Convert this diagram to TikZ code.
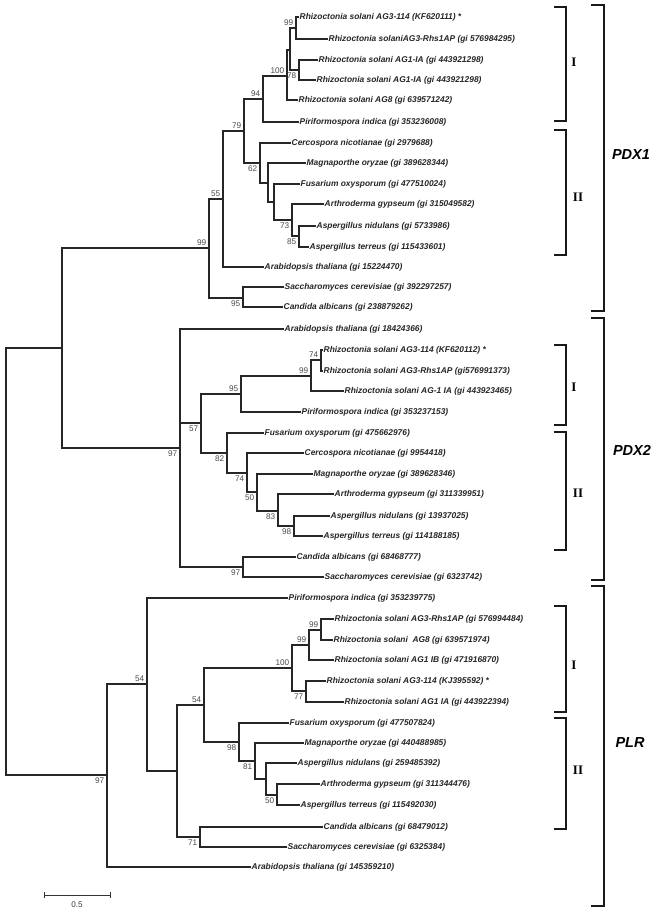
\documentclass[tikz,border=0pt]{standalone}
\usepackage{fontspec}
\setmainfont{Liberation Sans}
\newfontfamily\tnr{Liberation Serif}
\newcommand\mkleaf[4]{\coordinate (#1) at (#2,#3); \node[leaflabel] (#1t) at (#1) {#4};}
\newcommand\mkin[3]{\coordinate (#1) at (#2,#3);}
\newcommand\edg[2]{\draw[branch] (#1) |- (#2);}
\newcommand\bsup[2]{\node[bsA] (b#1) at (#1) {#2};}
\newcommand\bsdn[2]{\node[bsB] (b#1) at (#1) {#2};}
\begin{document}
\begin{tikzpicture}[x=1pt,y=-1pt,
  branch/.style={line width=1.4pt, draw=black!85, line cap=rect},
  leaflabel/.style={anchor=west, inner sep=0pt, xshift=1.5pt, font=\fontsize{8.4}{9}\selectfont\bfseries\itshape, text=black!85},
  bsA/.style={anchor=south east, inner sep=0pt, xshift=-2.5pt, yshift=2pt, font=\fontsize{8.2}{9}\selectfont, text=black!70},
  bsB/.style={anchor=north east, inner sep=0pt, xshift=-2.5pt, yshift=-3pt, font=\fontsize{8.2}{9}\selectfont, text=black!70},
  bigbr/.style={line width=2pt, draw=black!90},
  smallbr/.style={line width=1.5pt, draw=black!90},
  grp/.style={font=\fontsize{14.5}{16}\selectfont\bfseries\itshape, inner sep=0pt},
  sub/.style={font=\tnr\fontsize{13}{14}\selectfont\bfseries, inner sep=0pt}
]
\useasboundingbox[fill=white] (0,0) rectangle (661,913);

% internal nodes
\mkin{R}{6}{561}
\mkin{A}{62}{348}
\mkin{P}{107}{775}
\mkin{D1}{209}{248}
\mkin{D2}{180}{448}
\mkin{n55}{223}{199}
\mkin{n95a}{243}{298}
\mkin{n79}{244}{131}
\mkin{n94}{263}{99}
\mkin{n62}{260}{163}
\mkin{n100a}{287}{76}
\mkin{nZ}{290}{50}
\mkin{n99a}{296}{28}
\mkin{n78}{299}{70}
\mkin{nX}{268}{183}
\mkin{nY}{274}{202}
\mkin{n73}{292}{220}
\mkin{n85}{299}{236}
\mkin{n57}{201}{423}
\mkin{n97b}{243}{567}
\mkin{n95b}{241}{394}
\mkin{n82}{227}{453}
\mkin{n99b}{311}{376}
\mkin{n74a}{321}{360}
\mkin{n74b}{247}{473}
\mkin{n50a}{257}{492}
\mkin{n83}{278}{511}
\mkin{n98a}{294}{526}
\mkin{n54a}{147}{684}
\mkin{nQ}{177}{771}
\mkin{n54b}{204}{705}
\mkin{n71}{200}{837}
\mkin{n100c}{292}{668}
\mkin{n98c}{239}{742}
\mkin{n99c}{309}{645}
\mkin{n77}{306}{691}
\mkin{n99d}{321}{630}
\mkin{n81}{255}{761}
\mkin{nW}{266}{779}
\mkin{n50c}{277}{795}

% leaves PDX1
\mkleaf{L1}{298}{17}{Rhizoctonia solani AG3-114 (KF620111) *}
\mkleaf{L2}{327}{39}{Rhizoctonia solaniAG3-Rhs1AP (gi 576984295)}
\mkleaf{L3}{317}{60}{Rhizoctonia solani AG1-IA (gi 443921298)}
\mkleaf{L4}{315}{80}{Rhizoctonia solani AG1-IA (gi 443921298)}
\mkleaf{L5}{297}{100}{Rhizoctonia solani AG8 (gi 639571242)}
\mkleaf{L6}{298}{122}{Piriformospora indica (gi 353236008)}
\mkleaf{L7}{290}{143}{Cercospora nicotianae (gi 2979688)}
\mkleaf{L8}{305}{163}{Magnaporthe oryzae (gi 389628344)}
\mkleaf{L9}{299}{184}{Fusarium oxysporum (gi 477510024)}
\mkleaf{L10}{323}{204}{Arthroderma gypseum (gi 315049582)}
\mkleaf{L11}{315}{226}{Aspergillus nidulans (gi 5733986)}
\mkleaf{L12}{308}{247}{Aspergillus terreus (gi 115433601)}
\mkleaf{L13}{263}{267}{Arabidopsis thaliana (gi 15224470)}
\mkleaf{L14}{283}{287}{Saccharomyces cerevisiae (gi 392297257)}
\mkleaf{L15}{282}{307}{Candida albicans (gi 238879262)}
% leaves PDX2
\mkleaf{L16}{283}{329}{Arabidopsis thaliana (gi 18424366)}
\mkleaf{L17}{322}{350}{Rhizoctonia solani AG3-114 (KF620112) *}
\mkleaf{L18}{322}{371}{Rhizoctonia solani AG3-Rhs1AP (gi576991373)}
\mkleaf{L19}{343}{391}{Rhizoctonia solani AG-1 IA (gi 443923465)}
\mkleaf{L20}{300}{412}{Piriformospora indica (gi 353237153)}
\mkleaf{L21}{263}{433}{Fusarium oxysporum (gi 475662976)}
\mkleaf{L22}{303}{453}{Cercospora nicotianae (gi 9954418)}
\mkleaf{L23}{312}{474}{Magnaporthe oryzae (gi 389628346)}
\mkleaf{L24}{333}{494}{Arthroderma gypseum (gi 311339951)}
\mkleaf{L25}{329}{516}{Aspergillus nidulans (gi 13937025)}
\mkleaf{L26}{322}{536}{Aspergillus terreus (gi 114188185)}
\mkleaf{L27}{295}{557}{Candida albicans (gi 68468777)}
\mkleaf{L28}{323}{577}{Saccharomyces cerevisiae (gi 6323742)}
% leaves PLR
\mkleaf{L29}{287}{598}{Piriformospora indica (gi 353239775)}
\mkleaf{L30}{333}{619}{Rhizoctonia solani AG3-Rhs1AP (gi 576994484)}
\mkleaf{L31}{332}{640}{Rhizoctonia solani\ \ AG8 (gi 639571974)}
\mkleaf{L32}{333}{660}{Rhizoctonia solani AG1 IB (gi 471916870)}
\mkleaf{L33}{325}{681}{Rhizoctonia solani AG3-114 (KJ395592) *}
\mkleaf{L34}{343}{702}{Rhizoctonia solani AG1 IA (gi 443922394)}
\mkleaf{L35}{288}{723}{Fusarium oxysporum (gi 477507824)}
\mkleaf{L36}{303}{743}{Magnaporthe oryzae (gi 440488985)}
\mkleaf{L37}{296}{763}{Aspergillus nidulans (gi 259485392)}
\mkleaf{L38}{319}{784}{Arthroderma gypseum (gi 311344476)}
\mkleaf{L39}{299}{805}{Aspergillus terreus (gi 115492030)}
\mkleaf{L40}{322}{827}{Candida albicans (gi 68479012)}
\mkleaf{L41}{286}{847}{Saccharomyces cerevisiae (gi 6325384)}
\mkleaf{L42}{250}{867}{Arabidopsis thaliana (gi 145359210)}

% branches
\edg{R}{A}\edg{R}{P}
\edg{A}{D1}\edg{A}{D2}
\edg{D1}{n55}\edg{D1}{n95a}
\edg{n55}{n79}\edg{n55}{L13}
\edg{n79}{n94}\edg{n79}{n62}
\edg{n94}{n100a}\edg{n94}{L6}
\edg{n100a}{nZ}\edg{n100a}{L5}
\edg{nZ}{n99a}\edg{nZ}{n78}
\edg{n99a}{L1}\edg{n99a}{L2}
\edg{n78}{L3}\edg{n78}{L4}
\edg{n62}{L7}\edg{n62}{nX}
\edg{nX}{L8}\edg{nX}{nY}
\edg{nY}{L9}\edg{nY}{n73}
\edg{n73}{L10}\edg{n73}{n85}
\edg{n85}{L11}\edg{n85}{L12}
\edg{n95a}{L14}\edg{n95a}{L15}
\edg{D2}{L16}\edg{D2}{n57}\edg{D2}{n97b}
\edg{n57}{n95b}\edg{n57}{n82}
\edg{n95b}{n99b}\edg{n95b}{L20}
\edg{n99b}{n74a}\edg{n99b}{L19}
\edg{n74a}{L17}\edg{n74a}{L18}
\edg{n82}{L21}\edg{n82}{n74b}
\edg{n74b}{L22}\edg{n74b}{n50a}
\edg{n50a}{L23}\edg{n50a}{n83}
\edg{n83}{L24}\edg{n83}{n98a}
\edg{n98a}{L25}\edg{n98a}{L26}
\edg{n97b}{L27}\edg{n97b}{L28}
\edg{P}{n54a}\edg{P}{L42}
\edg{n54a}{L29}\edg{n54a}{nQ}
\edg{nQ}{n54b}\edg{nQ}{n71}
\edg{n54b}{n100c}\edg{n54b}{n98c}
\edg{n100c}{n99c}\edg{n100c}{n77}
\edg{n99c}{n99d}\edg{n99c}{L32}
\edg{n99d}{L30}\edg{n99d}{L31}
\edg{n77}{L33}\edg{n77}{L34}
\edg{n98c}{L35}\edg{n98c}{n81}
\edg{n81}{L36}\edg{n81}{nW}
\edg{nW}{L37}\edg{nW}{n50c}
\edg{n50c}{L38}\edg{n50c}{L39}
\edg{n71}{L40}\edg{n71}{L41}

% bootstrap values
\bsup{D1}{99}
\bsdn{D2}{97}
\bsdn{P}{97}
\bsup{n55}{55}
\bsdn{n95a}{95}
\bsup{n79}{79}
\bsup{n94}{94}
\bsdn{n62}{62}
\bsup{n100a}{100}
\bsup{n99a}{99}
\bsdn{n78}{78}
\bsdn{n73}{73}
\bsdn{n85}{85}
\bsdn{n57}{57}
\bsdn{n97b}{97}
\bsup{n95b}{95}
\bsdn{n82}{82}
\bsup{n99b}{99}
\bsup{n74a}{74}
\bsdn{n74b}{74}
\bsdn{n50a}{50}
\bsdn{n83}{83}
\bsdn{n98a}{98}
\bsup{n54a}{54}
\bsup{n54b}{54}
\bsdn{n71}{71}
\bsup{n100c}{100}
\bsdn{n98c}{98}
\bsup{n99c}{99}
\bsup{n99d}{99}
\bsdn{n77}{77}
\bsdn{n81}{81}
\bsdn{n50c}{50}

% scale bar
\coordinate (sbL) at (44,895);
\coordinate (sbR) at (110,895);
\draw[line width=0.9pt, draw=black!80] (sbL) -- (sbR);
\draw[line width=0.9pt, draw=black!80] ([yshift=3pt]sbL) -- ([yshift=-3pt]sbL);
\draw[line width=0.9pt, draw=black!80] ([yshift=3pt]sbR) -- ([yshift=-3pt]sbR);
\node[font=\fontsize{8.2}{9}\selectfont, text=black!75, inner sep=0pt] (sbT) at (77,905) {0.5};

% group brackets
\draw[bigbr] (591,5) -- (604,5) -- (604,311) -- (591,311);
\node[grp] (gPDX1) at (631,155) {PDX1};
\draw[bigbr] (591,318) -- (604,318) -- (604,580) -- (591,580);
\node[grp] (gPDX2) at (632,450) {PDX2};
\draw[bigbr] (591,586) -- (604,586) -- (604,906) -- (591,906);
\node[grp] (gPLR) at (630,743) {PLR};

\draw[smallbr] (554,7) -- (566,7) -- (566,121) -- (554,121);
\node[sub] (s1) at (574,62) {I};
\draw[smallbr] (554,130) -- (566,130) -- (566,255) -- (554,255);
\node[sub] (s2) at (578,197) {II};
\draw[smallbr] (554,345) -- (566,345) -- (566,425) -- (554,425);
\node[sub] (s3) at (574,387) {I};
\draw[smallbr] (554,432) -- (566,432) -- (566,550) -- (554,550);
\node[sub] (s4) at (578,493) {II};
\draw[smallbr] (554,606) -- (566,606) -- (566,712) -- (554,712);
\node[sub] (s5) at (574,665) {I};
\draw[smallbr] (554,718) -- (566,718) -- (566,829) -- (554,829);
\node[sub] (s6) at (578,770) {II};
\end{tikzpicture}
\end{document}
